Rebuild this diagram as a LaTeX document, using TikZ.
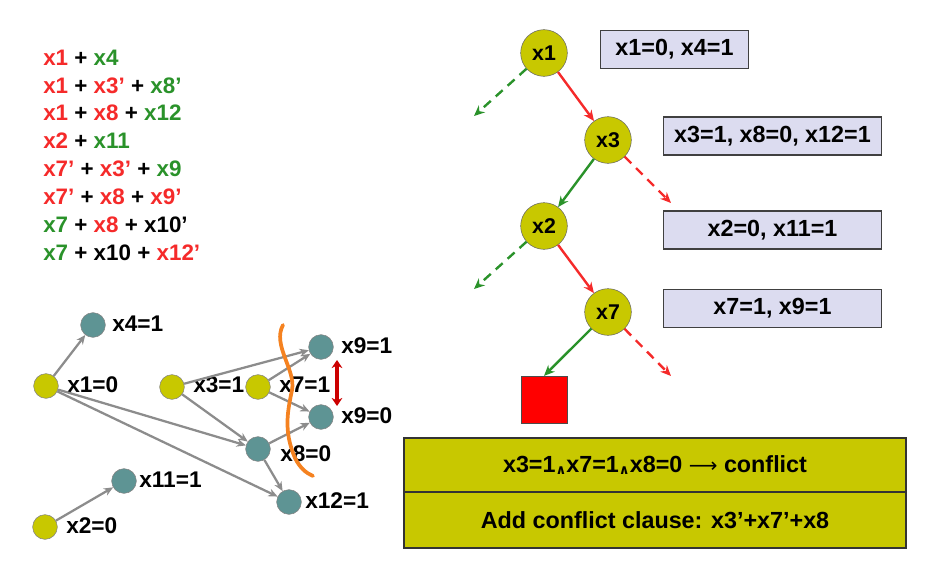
\documentclass[tikz,border=0pt]{standalone}
\usepackage{fontspec}
\setmainfont{Liberation Sans}
\usetikzlibrary{arrows.meta}
\definecolor{cred}{HTML}{F52A2A}
\definecolor{cgreen}{HTML}{2A922A}
\definecolor{yel}{HTML}{C8C800}
\definecolor{teal}{HTML}{5E9494}
\definecolor{lav}{HTML}{DCDCF0}
\definecolor{org}{HTML}{F58220}
\newcommand{\R}[1]{\textcolor{cred}{#1}}
\newcommand{\G}[1]{\textcolor{cgreen}{#1}}
\newcommand{\andsym}{{\fontspec{DejaVu Sans}\fontsize{10}{12}\selectfont\raisebox{-1pt}{∧}}}
\begin{document}
\begin{tikzpicture}[x=0.75pt,y=-0.75pt,
  font=\bfseries\fontsize{17.5}{20}\selectfont,
  clause/.style={anchor=west,inner sep=0pt,font=\bfseries\fontsize{16.8}{19}\selectfont},
  tnode/.style={circle,draw=black!60,fill=yel,minimum size=35pt,inner sep=0pt,font=\bfseries\fontsize{16}{18}\selectfont},
  gy/.style={circle,draw=black!50,fill=yel,minimum size=18.5pt,inner sep=0pt},
  gt/.style={circle,draw=black!50,fill=teal,minimum size=18.5pt,inner sep=0pt},
  glab/.style={anchor=west,inner sep=0pt,font=\bfseries\fontsize{17}{19}\selectfont},
  garr/.style={draw=black!45,line width=1.7pt,-{Stealth[length=7pt,width=6pt]}},
  tarr/.style={line width=1.8pt,-{Stealth[length=8pt,width=7pt]}},
  dsh/.style={dash pattern=on 7pt off 5pt},
  vbox/.style={draw=black!75,fill=lav,line width=0.8pt,minimum height=28.5pt,inner sep=0pt},
  cbox/.style={draw=black!80,fill=yel,line width=0.8pt,minimum width=376.5pt,inner sep=0pt,font=\bfseries\fontsize{17.5}{20}\selectfont}
]
\useasboundingbox (0,0) rectangle (926,578);
% clauses
\node[clause] (c1) at (43,58) {\R{x1} + \G{x4}};
\node[clause] (c2) at (43,86) {\R{x1} + \R{x3’} + \G{x8’}};
\node[clause] (c3) at (43,113) {\R{x1} + \R{x8} + \G{x12}};
\node[clause] (c4) at (43,141) {\R{x2} + \G{x11}};
\node[clause] (c5) at (43,169) {\R{x7’} + \R{x3’} + \G{x9}};
\node[clause] (c6) at (43,197) {\R{x7’} + \R{x8} + \R{x9’}};
\node[clause] (c7) at (43,225) {\G{x7} + \R{x8} + x10’};
\node[clause] (c8) at (43,253) {\G{x7} + x10 + \R{x12’}};
% implication graph
\node[gt] (g4) at (93,325) {};
\node[gy] (g1) at (46,386) {};
\node[gy] (g3) at (172,387) {};
\node[gy] (g7) at (258,387) {};
\node[gt] (g91) at (321,347) {};
\node[gt] (g90) at (321,417) {};
\node[gt] (g8) at (258,449) {};
\node[gt] (g11) at (124,481) {};
\node[gt] (g12) at (289,502) {};
\node[gy] (g2) at (45,527) {};
\node[glab] (l4) at (112,324) {x4=1};
\node[glab] (l1) at (67,385) {x1=0};
\node[glab] (l3) at (193,385) {x3=1};
\node[glab] (l7) at (279,385) {x7=1};
\node[glab] (l91) at (341,346) {x9=1};
\node[glab] (l90) at (341,416) {x9=0};
\node[glab] (l8) at (280,454) {x8=0};
\node[glab] (l11) at (139,480) {x11=1};
\node[glab] (l12) at (305,501) {x12=1};
\node[glab] (l2) at (66,526) {x2=0};
\draw[garr] (g1) -- (g4);
\draw[garr] (g1) -- (g8);
\draw[garr] (g1) -- (g12);
\draw[garr] (g3) -- (g91);
\draw[garr] (g3) -- (g8);
\draw[garr] (g7) -- (g91);
\draw[garr] (g7) -- (g90);
\draw[garr] (g8) -- (g90);
\draw[garr] (g8) -- (g12);
\draw[garr] (g2) -- (g11);
\coordinate (dt) at (337,360);
\coordinate (db) at (337,406);
\draw[draw=red!80!black,line width=2.8pt,{Stealth[length=6pt,width=8pt]}-{Stealth[length=6pt,width=8pt]}] (dt) -- (db);
\draw[org,line width=2.8pt,line cap=round] (283,325) .. controls (272,345) and (296,370) .. (292,390) .. controls (288,410) and (283,430) .. (295,458) .. controls (300,468) and (306,473) .. (313,476);
% decision tree
\node[tnode] (t1) at (544,53) {x1};
\node[tnode] (t3) at (608,140) {x3};
\node[tnode] (t2) at (544,226) {x2};
\node[tnode] (t7) at (608,312) {x7};
\node[draw=black!70,fill=red,minimum width=34.5pt,minimum height=35pt,inner sep=0pt] (sq) at (544,399.5) {};
\coordinate (e1) at (474,116);
\coordinate (e3) at (671,203);
\coordinate (e2) at (474,289);
\coordinate (e7) at (671,376);
\draw[tarr,cgreen,dsh] (t1) -- (e1);
\draw[tarr,cred] (t1) -- (t3);
\draw[tarr,cgreen] (t3) -- (t2);
\draw[tarr,cred,dsh] (t3) -- (e3);
\draw[tarr,cgreen,dsh] (t2) -- (e2);
\draw[tarr,cred] (t2) -- (t7);
\draw[tarr,cgreen] (t7) -- (sq.north);
\draw[tarr,cred,dsh] (t7) -- (e7);
\node[vbox,minimum width=111pt] (b1) at (674.5,49.5) {x1=0, x4=1};
\node[vbox,minimum width=164pt] (b3) at (772.5,136) {x3=1, x8=0, x12=1};
\node[vbox,minimum width=164pt] (b2) at (772.5,230) {x2=0, x11=1};
\node[vbox,minimum width=164pt] (b7) at (772.5,308.5) {x7=1, x9=1};
\node[cbox,minimum height=40.5pt] (k1) at (655,465) {x3=1\andsym x7=1\andsym x8=0 {\fontspec{DejaVu Sans}\mdseries\fontsize{15}{18}\selectfont ⟶} conflict};
\node[cbox,minimum height=42pt] (k2) at (655,520) {Add conflict clause: x3’+x7’+x8};
\end{tikzpicture}
\end{document}
